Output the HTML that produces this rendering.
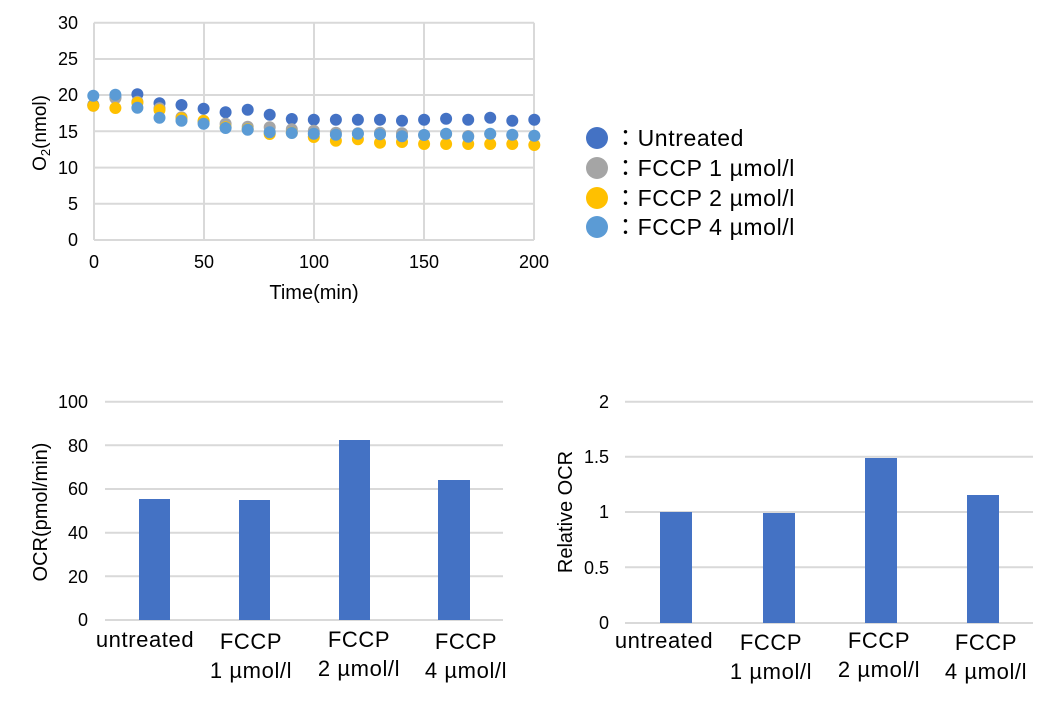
<!DOCTYPE html>
<html><head><meta charset="utf-8"><style>
html,body{margin:0;padding:0;background:#fff;}
svg text{font-family:"Liberation Sans","Noto Sans CJK JP",sans-serif;fill:#000;}
</style></head><body>
<svg width="1057" height="700" viewBox="0 0 1057 700" xmlns="http://www.w3.org/2000/svg">
<!-- Top scatter chart -->
<g stroke="#d9d9d9" stroke-width="2">
<line x1="94" y1="22.7" x2="534" y2="22.7"/>
<line x1="94" y1="59" x2="534" y2="59"/>
<line x1="94" y1="95" x2="534" y2="95"/>
<line x1="94" y1="131.3" x2="534" y2="131.3"/>
<line x1="94" y1="167.6" x2="534" y2="167.6"/>
<line x1="94" y1="203.8" x2="534" y2="203.8"/>
<line x1="94" y1="240" x2="534" y2="240"/>
<line x1="94" y1="22.7" x2="94" y2="240"/>
<line x1="204" y1="22.7" x2="204" y2="240"/>
<line x1="314" y1="22.7" x2="314" y2="240"/>
<line x1="424" y1="22.7" x2="424" y2="240"/>
<line x1="534" y1="22.7" x2="534" y2="240"/>
</g>
<g font-size="18" text-anchor="end">
<text x="78" y="29">30</text><text x="78" y="65">25</text><text x="78" y="101">20</text>
<text x="78" y="138">15</text><text x="78" y="174">10</text><text x="78" y="210">5</text><text x="78" y="246">0</text>
</g>
<g font-size="18" text-anchor="middle">
<text x="94" y="268">0</text><text x="204" y="268">50</text><text x="314" y="268">100</text>
<text x="424" y="268">150</text><text x="534" y="268">200</text>
<text x="314" y="299" font-size="20">Time(min)</text>
</g>
<text font-size="19" text-anchor="middle" transform="translate(46,133) rotate(-90)">O<tspan font-size="13" dy="4">2</tspan><tspan dy="-4">(nmol)</tspan></text>
<g fill="#4472C4">
<circle cx="93.3" cy="105" r="6"/><circle cx="115.4" cy="97.3" r="6"/><circle cx="137.4" cy="94.3" r="6"/><circle cx="159.5" cy="103.3" r="6"/><circle cx="181.5" cy="105" r="6"/><circle cx="203.6" cy="108.7" r="6"/><circle cx="225.6" cy="112.3" r="6"/><circle cx="247.7" cy="109.7" r="6"/><circle cx="269.7" cy="114.7" r="6"/><circle cx="291.8" cy="119" r="6"/><circle cx="313.8" cy="119.7" r="6"/><circle cx="335.9" cy="119.7" r="6"/><circle cx="357.9" cy="119.7" r="6"/><circle cx="380" cy="119.7" r="6"/><circle cx="402" cy="120.7" r="6"/><circle cx="424.1" cy="119.7" r="6"/><circle cx="446.1" cy="118.7" r="6"/><circle cx="468.2" cy="119.7" r="6"/><circle cx="490.2" cy="117.7" r="6"/><circle cx="512.3" cy="120.7" r="6"/><circle cx="534.3" cy="119.7" r="6"/>
</g>
<g fill="#A5A5A5">
<circle cx="93.3" cy="105.7" r="6"/><circle cx="115.4" cy="98.3" r="6"/><circle cx="137.4" cy="101.7" r="6"/><circle cx="159.5" cy="108.3" r="6"/><circle cx="181.5" cy="117.3" r="6"/><circle cx="203.6" cy="121.7" r="6"/><circle cx="225.6" cy="123.7" r="6"/><circle cx="247.7" cy="126.7" r="6"/><circle cx="269.7" cy="127.3" r="6"/><circle cx="291.8" cy="129.3" r="6"/><circle cx="313.8" cy="130.7" r="6"/><circle cx="335.9" cy="132.7" r="6"/><circle cx="357.9" cy="133.3" r="6"/><circle cx="380" cy="132.7" r="6"/><circle cx="402" cy="133.3" r="6"/><circle cx="424.1" cy="135" r="6"/><circle cx="446.1" cy="134" r="6"/><circle cx="468.2" cy="136" r="6"/><circle cx="490.2" cy="134" r="6"/><circle cx="512.3" cy="135.3" r="6"/><circle cx="534.3" cy="136" r="6"/>
</g>
<g fill="#FFC000">
<circle cx="93.3" cy="105.7" r="6"/><circle cx="115.4" cy="108" r="6"/><circle cx="137.4" cy="102.7" r="6"/><circle cx="159.5" cy="110" r="6"/><circle cx="181.5" cy="118.3" r="6"/><circle cx="203.6" cy="120.7" r="6"/><circle cx="225.6" cy="127.3" r="6"/><circle cx="247.7" cy="129.3" r="6"/><circle cx="269.7" cy="134" r="6"/><circle cx="291.8" cy="132.7" r="6"/><circle cx="313.8" cy="137" r="6"/><circle cx="335.9" cy="140.7" r="6"/><circle cx="357.9" cy="139.3" r="6"/><circle cx="380" cy="142.7" r="6"/><circle cx="402" cy="142" r="6"/><circle cx="424.1" cy="144" r="6"/><circle cx="446.1" cy="144" r="6"/><circle cx="468.2" cy="144" r="6"/><circle cx="490.2" cy="144" r="6"/><circle cx="512.3" cy="144" r="6"/><circle cx="534.3" cy="145" r="6"/>
</g>
<g fill="#5B9BD5">
<circle cx="93.3" cy="95.7" r="6"/><circle cx="115.4" cy="94.7" r="6"/><circle cx="137.4" cy="107.7" r="6"/><circle cx="159.5" cy="117.7" r="6"/><circle cx="181.5" cy="120.7" r="6"/><circle cx="203.6" cy="123.7" r="6"/><circle cx="225.6" cy="128" r="6"/><circle cx="247.7" cy="129.7" r="6"/><circle cx="269.7" cy="132.3" r="6"/><circle cx="291.8" cy="133" r="6"/><circle cx="313.8" cy="133.7" r="6"/><circle cx="335.9" cy="134.7" r="6"/><circle cx="357.9" cy="133.7" r="6"/><circle cx="380" cy="134.3" r="6"/><circle cx="402" cy="136.3" r="6"/><circle cx="424.1" cy="135" r="6"/><circle cx="446.1" cy="133.7" r="6"/><circle cx="468.2" cy="136.7" r="6"/><circle cx="490.2" cy="133.7" r="6"/><circle cx="512.3" cy="134.7" r="6"/><circle cx="534.3" cy="135.7" r="6"/>
</g>
<!-- Legend -->
<g font-size="23" letter-spacing="0.6">
<circle cx="597" cy="138" r="11" fill="#4472C4"/><text x="614" y="146">：Untreated</text>
<circle cx="597" cy="168" r="11" fill="#A5A5A5"/><text x="614" y="176">：FCCP 1 µmol/l</text>
<circle cx="597" cy="198" r="11" fill="#FFC000"/><text x="614" y="206">：FCCP 2 µmol/l</text>
<circle cx="597" cy="227" r="11" fill="#5B9BD5"/><text x="614" y="235">：FCCP 4 µmol/l</text>
</g>
<!-- Bottom left bar chart -->
<g stroke="#d9d9d9" stroke-width="2">
<line x1="105" y1="401.7" x2="503" y2="401.7"/>
<line x1="105" y1="445.3" x2="503" y2="445.3"/>
<line x1="105" y1="489" x2="503" y2="489"/>
<line x1="105" y1="532.7" x2="503" y2="532.7"/>
<line x1="105" y1="576.3" x2="503" y2="576.3"/>
<line x1="105" y1="620" x2="503" y2="620"/>
</g>
<g fill="#4472C4">
<rect x="139" y="499" width="31" height="121"/>
<rect x="239" y="500" width="31" height="120"/>
<rect x="339" y="440" width="31" height="180"/>
<rect x="438" y="480" width="32" height="140"/>
</g>
<g font-size="18" text-anchor="end">
<text x="88" y="408">100</text><text x="88" y="452">80</text><text x="88" y="495">60</text>
<text x="88" y="539">40</text><text x="88" y="583">20</text><text x="88" y="626">0</text>
</g>
<text font-size="20" text-anchor="middle" transform="translate(47,512) rotate(-90)">OCR(pmol/min)</text>
<g font-size="22" text-anchor="middle" letter-spacing="0.6">
<text x="145" y="647">untreated</text>
<text x="251" y="649">FCCP</text><text x="251" y="678">1 µmol/l</text>
<text x="359" y="647">FCCP</text><text x="359" y="676">2 µmol/l</text>
<text x="466" y="649">FCCP</text><text x="466" y="678">4 µmol/l</text>
</g>
<!-- Bottom right bar chart -->
<g stroke="#d9d9d9" stroke-width="2">
<line x1="625" y1="401.7" x2="1033" y2="401.7"/>
<line x1="625" y1="456.7" x2="1033" y2="456.7"/>
<line x1="625" y1="512" x2="1033" y2="512"/>
<line x1="625" y1="567.3" x2="1033" y2="567.3"/>
<line x1="625" y1="623" x2="1033" y2="623"/>
</g>
<g fill="#4472C4">
<rect x="660" y="512" width="32" height="111"/>
<rect x="763" y="513" width="32" height="110"/>
<rect x="865" y="458" width="32" height="165"/>
<rect x="967" y="495" width="32" height="128"/>
</g>
<g font-size="18" text-anchor="end">
<text x="609" y="408">2</text><text x="609" y="463">1.5</text><text x="609" y="518">1</text>
<text x="609" y="574">0.5</text><text x="609" y="629">0</text>
</g>
<text font-size="20" text-anchor="middle" transform="translate(572,512) rotate(-90)">Relative OCR</text>
<g font-size="22" text-anchor="middle" letter-spacing="0.6">
<text x="664" y="648">untreated</text>
<text x="771" y="650">FCCP</text><text x="771" y="679">1 µmol/l</text>
<text x="879" y="648">FCCP</text><text x="879" y="677">2 µmol/l</text>
<text x="986" y="650">FCCP</text><text x="986" y="679">4 µmol/l</text>
</g>
</svg>
</body></html>
